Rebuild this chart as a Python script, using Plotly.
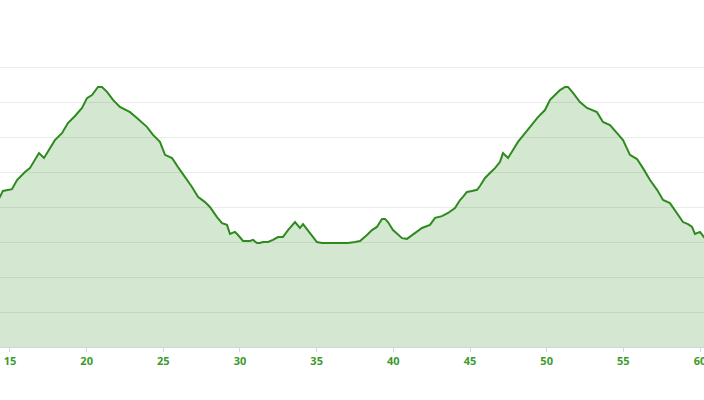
import plotly.graph_objects as go

# Distance (km) and elevation (arbitrary units, gridline every 100)
distance = [14.2, 14.35, 14.54, 15.13, 15.46, 15.65, 15.98, 16.30, 16.50, 16.89, 17.22, 17.61, 17.93, 18.39, 18.78,
            19.24, 19.70, 20.02, 20.35, 20.74, 21.00, 21.33, 21.72, 22.17, 22.83, 23.28, 23.61, 23.93, 24.33, 24.78,
            25.11, 25.57, 25.96, 26.41, 26.87, 27.26, 27.72, 28.04, 28.50, 28.83, 29.15, 29.35, 29.67, 29.87, 30.20,
            30.65, 30.85, 31.11, 31.30, 31.50, 31.83, 32.15, 32.48, 32.80, 33.13, 33.59, 33.91, 34.11, 34.57, 35.02,
            35.35, 35.87, 36.33, 36.72, 37.04, 37.50, 37.83, 38.28, 38.61, 38.93, 39.26, 39.46, 39.65, 39.98, 40.30,
            40.57, 40.89, 41.22, 41.54, 41.87, 42.39, 42.72, 43.17, 43.57, 44.02, 44.35, 44.54, 44.80, 45.13, 45.46,
            45.65, 45.98, 46.30, 46.63, 46.96, 47.15, 47.48, 47.80, 48.13, 48.59, 49.04, 49.43, 49.89, 50.22, 50.54,
            50.87, 51.20, 51.39, 51.72, 52.17, 52.63, 53.28, 53.67, 54.13, 54.59, 54.98, 55.43, 55.89, 56.28, 56.74,
            57.20, 57.59, 58.04, 58.50, 58.89, 59.22, 59.48, 59.67, 60.00, 60.26, 60.40]
elevation = [420, 429, 446, 451, 477, 486, 500, 511, 526, 554, 540, 569, 591, 611, 640,
             660, 683, 711, 720, 743, 743, 729, 706, 686, 671, 654, 640, 629, 606, 586,
             549, 540, 514, 486, 457, 429, 414, 400, 371, 354, 349, 323, 329, 320, 303,
             303, 306, 297, 297, 300, 300, 306, 314, 314, 334, 357, 340, 351, 326, 300,
             297, 297, 297, 297, 297, 300, 303, 320, 334, 343, 366, 366, 357, 334, 320,
             311, 309, 320, 329, 340, 349, 369, 374, 383, 397, 420, 429, 443, 446, 449,
             460, 483, 497, 511, 529, 554, 540, 563, 586, 611, 634, 657, 677, 706, 720,
             734, 743, 743, 726, 700, 683, 671, 643, 634, 611, 591, 549, 537, 511, 477,
             449, 420, 411, 383, 357, 351, 343, 323, 329, 314, 305]
assert len(distance) == len(elevation)

x_ticks = [15, 20, 25, 30, 35, 40, 45, 50, 55, 60]
y_grid = [0, 100, 200, 300, 400, 500, 600, 700, 800]

fig = go.Figure()
fig.add_trace(go.Scatter(
    x=distance, y=elevation, mode="lines",
    line=dict(color="#2e8a1f", width=2),
    fill="tozeroy", fillcolor="rgba(60,150,45,0.22)",
    hoverinfo="skip", showlegend=False,
))

fig.update_layout(
    width=704, height=400,
    margin=dict(l=0, r=0, t=39, b=53, pad=0),
    paper_bgcolor="white", plot_bgcolor="white",
    xaxis=dict(
        range=[14.35, 60.26], tickvals=x_ticks, ticktext=[str(v) for v in x_ticks],
        showgrid=False, zeroline=False, automargin=False, ticklabeloverflow="allow",
        showline=True, linecolor="#ccd6eb", linewidth=1,
        ticks="outside", ticklen=4, tickcolor="#ccd6eb",
        tickfont=dict(family="Open Sans", size=11, color="#3c9a2e", weight="bold"),
    ),
    yaxis=dict(
        range=[0, 880], tickvals=y_grid, showticklabels=False, automargin=False,
        showgrid=True, gridcolor="#ebebeb", gridwidth=1, zeroline=False,
    ),
)

fig.write_html(
    "out.html",
    config={"displayModeBar": False},
    post_script="document.body.style.margin='0';document.body.style.overflow='hidden';",
)
